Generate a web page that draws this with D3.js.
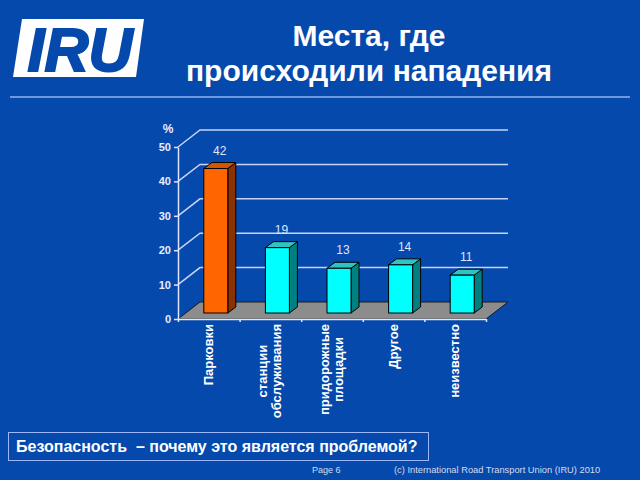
<!DOCTYPE html>
<html>
<head>
<meta charset="utf-8">
<script src="https://cdn.jsdelivr.net/npm/d3@7"></script>
<style>
  body { margin: 0; background: #0549ad; }
  svg { display: block; font-family: "Liberation Sans", Arial, sans-serif; }
</style>
</head>
<body>
<div id="chart"></div>
<script>
// chart data
const categories = ["Парковки", "станции\nобслуживания", "придорожные\nплощадки", "Другое", "неизвестно"];
const values = [42, 19, 13, 14, 11];
const yTicks = [0, 10, 20, 30, 40, 50];
const titleLines = ["Места, где", "происходили нападения"];
const highlightIndex = 0;

const W = 640, H = 480;
const bg = "#0549ad";

const svg = d3.select("#chart").append("svg")
    .attr("width", W)
    .attr("height", H);

svg.append("rect").attr("width", W).attr("height", H).attr("fill", bg);

// IRU logo
svg.append("polygon")
    .attr("points", "22,19 144,19 136,77 13,77")
    .attr("fill", "#fff");
svg.append("text")
    .attr("x", 80).attr("y", 71)
    .attr("text-anchor", "middle")
    .attr("font-size", 61)
    .attr("font-weight", "bold")
    .attr("font-style", "italic")
    .attr("fill", bg)
    .attr("stroke", bg)
    .attr("stroke-width", 2)
    .text("IRU");

// title
svg.append("g").selectAll("text")
    .data(titleLines)
    .join("text")
    .attr("x", 369)
    .attr("y", (d, i) => 46 + i * 35)
    .attr("text-anchor", "middle")
    .attr("font-size", 30)
    .attr("font-weight", "bold")
    .attr("fill", "#fff")
    .text(d => d);

svg.append("line")
    .attr("x1", 10).attr("x2", 630)
    .attr("y1", 97).attr("y2", 97)
    .attr("stroke", "#8fb3f5").attr("stroke-width", 1.5);

// scales
const x0 = 178, x1 = 486;
const depth = { dx: 22, dy: -17 };
const x = d3.scaleBand().domain(categories).range([x0, x1]).paddingInner(0).paddingOuter(0);
const xEdge = d3.scaleLinear().domain([0, categories.length]).range([x0, x1]);
const y = d3.scaleLinear().domain([0, 50]).range([319, 147]);

const gridColor = "#c9d3f5";
const axisColor = "#dfe6ff";

// floor
svg.append("polygon")
    .attr("points", [
        [x0, y(0)],
        [x0 + depth.dx, y(0) + depth.dy],
        [x1 + depth.dx, y(0) + depth.dy],
        [x1, y(0)]
    ].map(p => p.join(",")).join(" "))
    .attr("fill", "#8c8c8c")
    .attr("stroke", "#1a1a1a")
    .attr("stroke-width", 1);

// gridlines on the back wall
svg.append("g").selectAll("path")
    .data(yTicks.filter(t => t > 0))
    .join("path")
    .attr("d", t => `M${x0},${y(t)}L${x0 + depth.dx},${y(t) + depth.dy}H${x1 + depth.dx}`)
    .attr("fill", "none")
    .attr("stroke", gridColor)
    .attr("stroke-width", 1.5);

// y axis
const yAxis = svg.append("g")
    .attr("transform", `translate(${x0},0)`)
    .call(d3.axisLeft(y).tickValues(yTicks).tickSize(4).tickSizeOuter(0).tickPadding(3));
yAxis.select(".domain").attr("stroke", axisColor).attr("stroke-width", 1.5);
yAxis.selectAll(".tick line").attr("stroke", axisColor).attr("stroke-width", 1.5);
yAxis.selectAll(".tick text")
    .attr("fill", "#e8ecff")
    .attr("font-size", 11)
    .attr("font-weight", "bold")
    .attr("font-family", "Liberation Sans, Arial, sans-serif");

svg.append("text")
    .attr("x", 168).attr("y", 133)
    .attr("text-anchor", "middle")
    .attr("font-size", 12)
    .attr("font-weight", "bold")
    .attr("fill", "#e8ecff")
    .text("%");

// x axis (ticks on category boundaries)
const xAxis = svg.append("g")
    .attr("transform", `translate(0,${y(0)})`)
    .call(d3.axisBottom(xEdge).tickValues(d3.range(categories.length + 1)).tickSize(3).tickSizeOuter(0).tickFormat(""));
xAxis.select(".domain").attr("stroke", axisColor).attr("stroke-width", 1.5);
xAxis.selectAll(".tick line").attr("stroke", axisColor).attr("stroke-width", 1.5);

// 3D bars
const barW = 24, side = { dx: 8, dy: -6 }, shift = { dx: 7, dy: -6 };
const palette = {
    hi: { front: "#ff6600", side: "#8a3300", top: "#d45500" },
    lo: { front: "#00ffff", side: "#008080", top: "#2ec4c4" }
};
const bars = svg.append("g").selectAll("g")
    .data(values.map((v, i) => ({ v, cat: categories[i], i })))
    .join("g");

bars.each(function (d) {
    const g = d3.select(this);
    const c = d.i === highlightIndex ? palette.hi : palette.lo;
    const left = x(d.cat) + x.bandwidth() / 2 + shift.dx - barW / 2;
    const right = left + barW;
    const yb = y(0) + shift.dy;
    const yt = y(d.v) + shift.dy;
    const pts = a => a.map(p => p.join(",")).join(" ");
    g.append("polygon")
        .attr("points", pts([[right, yt], [right + side.dx, yt + side.dy], [right + side.dx, yb + side.dy], [right, yb]]))
        .attr("fill", c.side).attr("stroke", "#000").attr("stroke-width", 1).attr("stroke-linejoin", "round");
    g.append("polygon")
        .attr("points", pts([[left, yt], [left + side.dx, yt + side.dy], [right + side.dx, yt + side.dy], [right, yt]]))
        .attr("fill", c.top).attr("stroke", "#000").attr("stroke-width", 1).attr("stroke-linejoin", "round");
    g.append("rect")
        .attr("x", left).attr("y", yt)
        .attr("width", barW).attr("height", yb - yt)
        .attr("fill", c.front).attr("stroke", "#000").attr("stroke-width", 1);
    g.append("text")
        .attr("x", left + barW / 2 + 4)
        .attr("y", yt + side.dy - 8)
        .attr("text-anchor", "middle")
        .attr("font-size", 12)
        .attr("fill", "#dfe6ff")
        .text(d.v);
});

// category labels, rotated
const labelTop = 324;
const labels = svg.append("g").selectAll("g")
    .data(categories)
    .join("g");
labels.each(function (d) {
    const g = d3.select(this);
    const lines = d.split("\n");
    const t = g.append("text")
        .attr("text-anchor", "middle")
        .attr("font-size", 13)
        .attr("font-weight", "bold")
        .attr("fill", "#fff");
    t.selectAll("tspan")
        .data(lines)
        .join("tspan")
        .attr("x", 0)
        .attr("y", (l, i) => (i - (lines.length - 1) / 2) * 14 + 4)
        .text(l => l);
    const maxLen = d3.max(t.selectAll("tspan").nodes(), n => n.getComputedTextLength());
    g.attr("transform", `translate(${x(d) + x.bandwidth() / 2},${labelTop + maxLen / 2}) rotate(-90)`);
});

// bottom box
svg.append("rect")
    .attr("x", 8.5).attr("y", 432.5)
    .attr("width", 420).attr("height", 28)
    .attr("fill", "none")
    .attr("stroke", "#9db8ff")
    .attr("stroke-width", 1);
svg.append("text")
    .attr("x", 16).attr("y", 452)
    .attr("font-size", 16)
    .attr("font-weight", "bold")
    .attr("fill", "#fff")
    .attr("xml:space", "preserve")
    .text("Безопасность  – почему это является проблемой?");

// footer
svg.append("text")
    .attr("x", 312).attr("y", 473)
    .attr("font-size", 9)
    .attr("fill", "#d5dcec")
    .text("Page 6");
svg.append("text")
    .attr("x", 394).attr("y", 473)
    .attr("font-size", 9.3)
    .attr("fill", "#d5dcec")
    .text("(c) International Road Transport Union (IRU) 2010");
</script>
</body>
</html>
